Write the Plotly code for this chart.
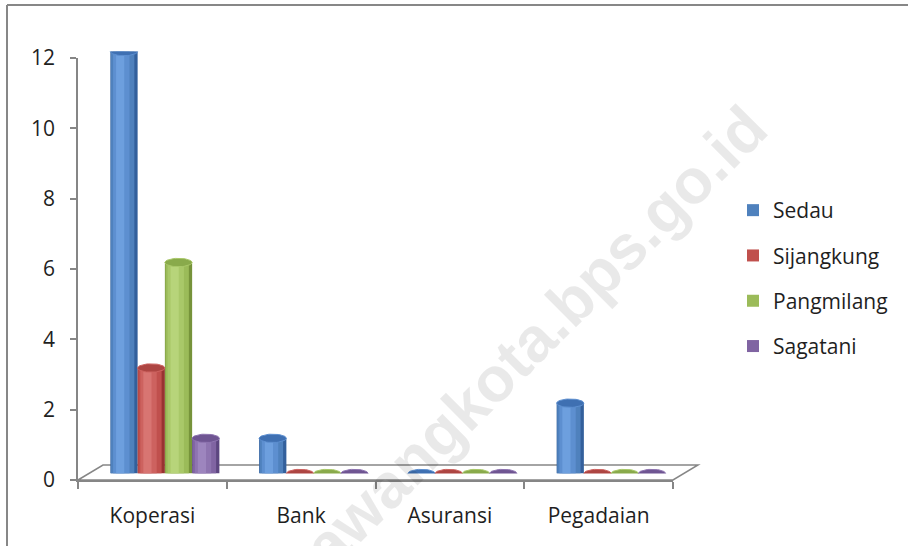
import numpy as np
import plotly.graph_objects as go

# ---------------- data ----------------
categories = ["Koperasi", "Bank", "Asuransi", "Pegadaian"]
series_names = ["Sedau", "Sijangkung", "Pangmilang", "Sagatani"]
sedau = [12, 1, 0, 2]
sijangkung = [3, 0, 0, 0]
pangmilang = [6, 0, 0, 0]
sagatani = [1, 0, 0, 0]
y_ticks = [0, 2, 4, 6, 8, 10, 12]

series_values = [sedau, sijangkung, pangmilang, sagatani]

# ---------------- styles ----------------
W, H = 908, 546
FONT = "Open Sans"
FS = 21
TXT = "#1f1f1f"
AX = "#868686"

palette = [
    # dark edge, standard, light1, light2, cap
    ("#33609c", "#4f81bd", "#5d8fd0", "#6d9fde", "#3f70b2"),
    ("#983331", "#c0504d", "#cd625f", "#d87572", "#ad4542"),
    ("#76933a", "#9bbb59", "#a9c869", "#b7d47a", "#89aa4b"),
    ("#5d4680", "#8064a2", "#8e74b0", "#9d85be", "#6f5592"),
]

def px_x(p):
    return p / W

def px_y(p):
    return 1 - p / H

# visible (front) axes geometry in pixels
FX0, FX1 = 78, 673
FY0, FY1 = 480, 58
# 3D depth offset of the bars (mid depth) and of the floor back edge
DX_MID, DY_MID = 12.5, 6.5
DX_BACK, DY_BACK = 25, 15

x_range = [-0.5, len(categories) - 0.5]
y_range = [0, 12]
px_per_cat = (FX1 - FX0) / (x_range[1] - x_range[0])
px_per_unit = (FY0 - FY1) / (y_range[1] - y_range[0])

n_series = len(series_values)
bar_w = 27.25 / px_per_cat  # in category units
ell_h = 4.2 / px_per_unit   # half height of ellipse, data units

fig = go.Figure()

layers = [  # (width factor, center shift factor, palette index)
    (1.00, 0.00, 0),
    (0.86, -0.05, 1),
    (0.60, -0.10, 2),
    (0.30, -0.14, 3),
]

for si, (name, vals) in enumerate(zip(series_names, series_values)):
    centers = [ci + (si - (n_series - 1) / 2) * bar_w for ci in range(len(categories))]
    for li, (wf, sh, pi) in enumerate(layers):
        fig.add_trace(go.Bar(
            x=[c + sh * bar_w for c in centers],
            y=vals,
            width=wf * bar_w,
            marker=dict(color=palette[si][pi], line=dict(width=0)),
            name=name,
            legendgroup=name,
            showlegend=(pi == 1),
            hoverinfo="skip" if pi != 1 else None,
            xaxis="x", yaxis="y",
        ))

# ellipses (bottom halves and top caps)
t_low = np.linspace(np.pi, 2 * np.pi, 30)
t_full = np.linspace(0, 2 * np.pi, 50)
for si, (name, vals) in enumerate(zip(series_names, series_values)):
    centers = [ci + (si - (n_series - 1) / 2) * bar_w for ci in range(len(categories))]
    bx, by, tx, ty = [], [], [], []
    for c, v in zip(centers, vals):
        bx += list(c + bar_w / 2 * np.cos(t_low)) + [None]
        by += list(ell_h * np.sin(t_low)) + [None]
        tx += list(c + bar_w / 2 * np.cos(t_full)) + [None]
        ty += list(v + ell_h * np.sin(t_full)) + [None]
    fig.add_trace(go.Scatter(
        x=bx, y=by, mode="lines", fill="toself",
        fillcolor=palette[si][1], line=dict(width=0, color=palette[si][1]),
        showlegend=False, hoverinfo="skip", legendgroup=name,
        xaxis="x", yaxis="y",
    ))
    fig.add_trace(go.Scatter(
        x=tx, y=ty, mode="lines", fill="toself",
        fillcolor=palette[si][4], line=dict(width=1, color=palette[si][2]),
        showlegend=False, hoverinfo="skip", legendgroup=name,
        xaxis="x", yaxis="y",
    ))

# floor of the 3D plot
floor = (f"M {px_x(FX0)},{px_y(FY0)} L {px_x(FX0 + DX_BACK)},{px_y(FY0 - DY_BACK)} "
         f"L {px_x(FX1 + DX_BACK)},{px_y(FY0 - DY_BACK)} L {px_x(FX1)},{px_y(FY0)} Z")

shapes = [
    dict(type="path", path=floor, xref="paper", yref="paper",
         line=dict(color=AX, width=1.5), fillcolor="white", layer="below"),
    # chart frame (top and left)
    dict(type="line", xref="paper", yref="paper", x0=px_x(7), x1=1.0,
         y0=px_y(5), y1=px_y(5), line=dict(color="#878787", width=2)),
    dict(type="line", xref="paper", yref="paper", x0=px_x(7), x1=px_x(7),
         y0=px_y(5), y1=0.0, line=dict(color="#878787", width=2)),
]

fig.update_layout(
    width=W, height=H,
    margin=dict(l=0, r=0, t=0, b=0, autoexpand=False),
    paper_bgcolor="white", plot_bgcolor="rgba(0,0,0,0)",
    barmode="overlay",
    font=dict(family=FONT, size=FS, color=TXT),
    showlegend=True,
    legend=dict(
        x=px_x(733), y=px_y(190), xanchor="left", yanchor="top",
        font=dict(family=FONT, size=FS, color=TXT),
        tracegroupgap=15, bgcolor="rgba(0,0,0,0)",
    ),
    # bars axes (shifted to mid depth), invisible
    xaxis=dict(domain=[px_x(FX0 + DX_MID), px_x(FX1 + DX_MID)], range=x_range,
               visible=False, fixedrange=True),
    yaxis=dict(domain=[px_y(FY0 - DY_MID), px_y(FY1 - DY_MID)], range=y_range,
               visible=False, fixedrange=True),
    # front visible axes
    xaxis2=dict(domain=[px_x(FX0), px_x(FX1)], range=x_range, anchor="y2",
                showline=True, linecolor=AX, linewidth=1.5, showgrid=False,
                zeroline=False, tickmode="array",
                tickvals=list(range(len(categories))), ticktext=categories,
                ticks="", ticklabelstandoff=16,
                minor=dict(tick0=-0.5, dtick=1, ticks="outside", ticklen=7,
                           tickcolor=AX, tickwidth=1.5, showgrid=False),
                tickfont=dict(family=FONT, size=FS, color=TXT), fixedrange=True),
    yaxis2=dict(domain=[px_y(FY0), px_y(FY1)], range=y_range, anchor="x2",
                showline=True, linecolor=AX, linewidth=1.5, showgrid=False,
                zeroline=False, tickmode="array", tickvals=y_ticks,
                ticks="outside", ticklen=6, tickcolor=AX, tickwidth=1.5,
                ticklabelstandoff=11,
                tickfont=dict(family=FONT, size=FS, color=TXT), fixedrange=True),
    shapes=shapes,
    annotations=[dict(
        text="<b>singkawangkota.bps.go.id</b>", xref="paper", yref="paper",
        x=px_x(477), y=px_y(395), xanchor="center", yanchor="middle",
        showarrow=False, textangle=-45,
        font=dict(family="Liberation Sans", size=63, color="rgba(0,0,0,0.085)"),
    )],
)

# invisible helper so the front axes are drawn
fig.add_trace(go.Scatter(x=[None], y=[None], xaxis="x2", yaxis="y2",
                         showlegend=False, hoverinfo="skip"))

fig.write_html("out.html", config={"displayModeBar": False},
               post_script="document.body.style.margin='0';")
